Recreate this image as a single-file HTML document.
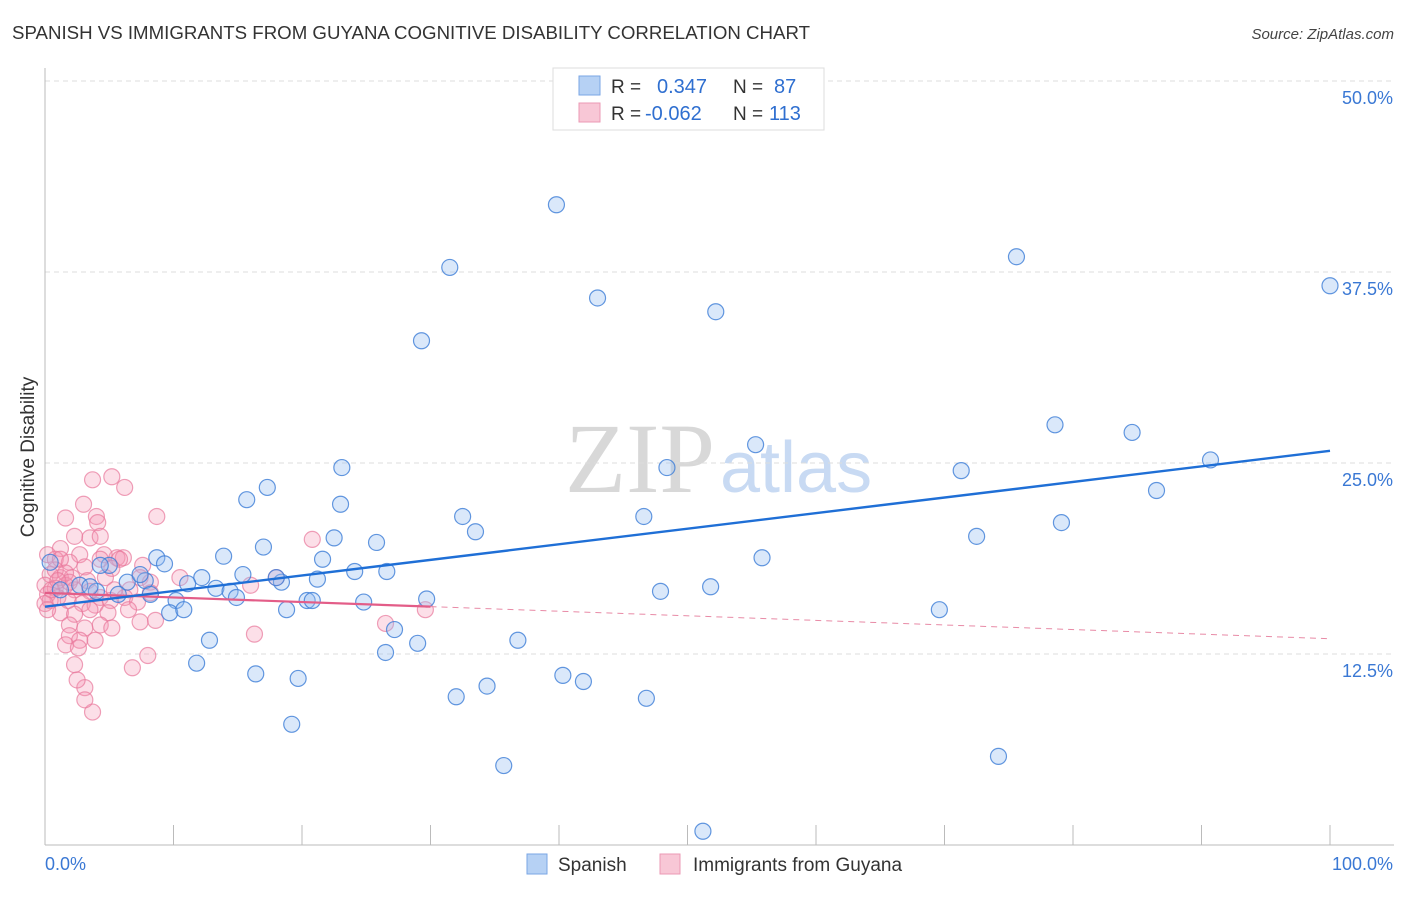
<!DOCTYPE html>
<html><head><meta charset="utf-8"><style>
body{margin:0;background:#fff;font-family:"Liberation Sans",sans-serif;}
svg text{font-family:"Liberation Sans",sans-serif;}
</style></head><body>
<svg width="1406" height="892" viewBox="0 0 1406 892" xmlns="http://www.w3.org/2000/svg" id="chart">
<text x="12" y="39" font-size="18.6" fill="#333" textLength="798" lengthAdjust="spacingAndGlyphs">SPANISH VS IMMIGRANTS FROM GUYANA COGNITIVE DISABILITY CORRELATION CHART</text>
<text x="1394" y="39" font-size="15" fill="#444" text-anchor="end" font-style="italic">Source: ZipAtlas.com</text>
<text transform="translate(34,457) rotate(-90)" font-size="19" fill="#333" text-anchor="middle">Cognitive Disability</text>
<text x="715" y="492" font-size="100" text-anchor="end" fill="#d8d8d8" font-family="Liberation Serif" style="font-family:'Liberation Serif',serif">ZIP</text>
<text x="720" y="492" font-size="72" fill="#c8daf3">atlas</text>
<g id="grid"></g>
<g id="marks"></g>
<g>
<rect x="553" y="68" width="271" height="62" fill="#fff" stroke="#ddd"/>
<rect x="579" y="76" width="21" height="19" fill="#b6d1f4" stroke="#7aa6e4"/>
<rect x="579" y="103" width="21" height="19" fill="#f8c7d6" stroke="#eb9ab4"/>
<text x="611" y="93" font-size="19" fill="#333">R =</text>
<text x="657" y="93" font-size="20" fill="#2f6fd0">0.347</text>
<text x="733" y="93" font-size="19" fill="#333">N =</text>
<text x="774" y="93" font-size="20" fill="#2f6fd0">87</text>
<text x="611" y="120" font-size="19" fill="#333">R =</text>
<text x="645" y="120" font-size="20" fill="#2f6fd0">-0.062</text>
<text x="733" y="120" font-size="19" fill="#333">N =</text>
<text x="769" y="120" font-size="20" fill="#2f6fd0">113</text>
</g>
<g>
<rect x="527" y="854" width="20" height="20" fill="#b6d1f4" stroke="#7aa6e4"/>
<text x="558" y="871" font-size="19" fill="#333">Spanish</text>
<rect x="660" y="854" width="20" height="20" fill="#f8c7d6" stroke="#eb9ab4"/>
<text x="693" y="871" font-size="19" fill="#333">Immigrants from Guyana</text>
</g>
</svg>
<script>
const yTicks=[12.5,25,37.5,50];
const yTickLabels=["12.5%","25.0%","37.5%","50.0%"];
const xTickLabels=["0.0%","100.0%"];
const spanishX=[39.8,31.5,75.6,100,43.0,52.2,29.3,78.6,84.6,55.3,48.4,23.1,71.3,90.7,86.5,15.7,17.3,23.0,32.5,33.5,46.6,79.1,22.5,25.8,72.5,17.0,8.7,13.9,21.6,9.3,55.8,15.4,24.1,26.6,21.2,12.2,11.1,6.4,7.8,18.4,18.0,5.0,4.3,13.3,14.4,14.9,8.2,10.2,9.7,10.8,18.8,20.4,20.8,24.8,29.7,47.9,51.8,69.6,4.0,5.7,12.8,27.2,29.0,26.5,36.8,11.8,16.4,19.7,32.0,34.4,40.3,41.9,46.8,19.2,35.7,74.2,51.2,0.4,1.2,2.7,3.5,7.4];
const spanishY=[41.9,37.8,38.5,36.6,35.8,34.9,33.0,27.5,27.0,26.2,24.7,24.7,24.5,25.2,23.2,22.6,23.4,22.3,21.5,20.5,21.5,21.1,20.1,19.8,20.2,19.5,18.8,18.9,18.7,18.4,18.8,17.7,17.9,17.9,17.4,17.5,17.1,17.2,17.3,17.2,17.5,18.3,18.3,16.8,16.6,16.2,16.4,16.0,15.2,15.4,15.4,16.0,16.0,15.9,16.1,16.6,16.9,15.4,16.6,16.4,13.4,14.1,13.2,12.6,13.4,11.9,11.2,10.9,9.7,10.4,11.1,10.7,9.6,7.9,5.2,5.8,0.9,18.5,16.7,17.0,16.9,17.7];
const guyanaX=[3.7,5.2,6.2,3.0,4.0,8.7,4.1,1.6,2.3,3.5,4.3,1.2,2.7,5.6,6.1,4.6,5.8,0.2,0.8,1.9,3.1,7.6,5.2,0.4,1.2,2.1,3.3,4.7,7.4,8.2,0,0.8,1.6,2.3,3.5,4.3,6.6,8.2,0.2,1.0,1.8,2.9,3.9,5.1,6.2,7.2,1.2,2.3,3.5,4.9,6.5,8.6,1.9,3.1,4.3,5.2,1.9,2.7,3.9,7.4,1.6,2.6,8.0,6.8,2.3,3.1,16.3,3.7,2.5,20.8,10.5,16.0,18.0,29.6,26.5,3.1,1.2,0.4,0.8,1.6,0,0.2,5.4,1.9,4.3,0.5,1.0];
const guyanaY=[23.9,24.1,23.4,22.3,21.5,21.5,21.1,21.4,20.2,20.1,20.2,19.4,19.0,18.8,18.8,19.0,18.7,19.0,18.7,18.5,18.2,18.3,18.1,17.7,17.5,17.5,17.3,17.5,17.5,17.2,17.0,16.8,17.0,16.7,16.6,16.2,16.7,16.5,16.4,16.2,16.0,15.8,15.7,16.0,16.2,15.9,15.2,15.1,15.4,15.2,15.4,14.7,14.4,14.2,14.4,14.2,13.7,13.4,13.4,14.6,13.1,12.9,12.4,11.6,11.8,10.3,13.8,8.7,10.8,20.0,17.5,17.0,17.5,15.4,14.5,9.5,18.7,16.0,18.0,17.8,15.8,15.4,16.7,17.2,18.7,16.7,17.3];
const spanishTrend=[15.6,25.8];
const guyanaTrend=[16.5,13.5];
const guyanaSolidEnd=30;

const NS="http://www.w3.org/2000/svg";
const xs=v=>45+v*12.85;
const ys=v=>845-v*15.28;
function mk(tag,attrs,parent){const e=document.createElementNS(NS,tag);for(const k in attrs)e.setAttribute(k,attrs[k]);parent.appendChild(e);return e;}
const grid=document.getElementById('grid');
const marks=document.getElementById('marks');
yTicks.forEach((t,i)=>{
  const l=mk('line',{x1:45,x2:1394,y1:ys(t),y2:ys(t),stroke:'#ddd','stroke-dasharray':'5,4'},grid);
  
  
  const tx=mk('text',{x:1393,y:ys(t)+23,'font-size':18,fill:'#3a78d4','text-anchor':'end'},grid);
  tx.textContent=yTickLabels[i];
  
  
});
const ax=mk('line',{x1:45,x2:1394,y1:845,y2:845,stroke:'#bbb'},grid);


const ay=mk('line',{x1:45,x2:45,y1:68,y2:845,stroke:'#bbb'},grid);


for(let i=0;i<=10;i++){
  const t=mk('line',{x1:xs(i*10),x2:xs(i*10),y1:825,y2:845,stroke:'#bbb'},grid);
  
  
}
const xl0=mk('text',{x:45,y:870,'font-size':18,fill:'#3a78d4'},grid);xl0.textContent=xTickLabels[0];


const xl1=mk('text',{x:1393,y:870,'font-size':18,fill:'#3a78d4','text-anchor':'end'},grid);xl1.textContent=xTickLabels[1];


guyanaX.forEach((x,i)=>{
  const c=mk('circle',{cx:xs(x),cy:ys(guyanaY[i]),r:8,fill:'rgba(244,150,180,0.3)',stroke:'rgba(232,120,155,0.7)','stroke-width':1.2},marks);
  
  
});
spanishX.forEach((x,i)=>{
  const c=mk('circle',{cx:xs(x),cy:ys(spanishY[i]),r:8,fill:'rgba(150,190,240,0.35)',stroke:'rgba(60,125,215,0.8)','stroke-width':1.2},marks);
  
  
});
const gy=x=>guyanaTrend[0]+(guyanaTrend[1]-guyanaTrend[0])*x/100;
const g1=mk('line',{x1:xs(0),y1:ys(gy(0)),x2:xs(guyanaSolidEnd),y2:ys(gy(guyanaSolidEnd)),stroke:'#e35d88','stroke-width':2.2},marks);


const g2=mk('line',{x1:xs(guyanaSolidEnd),y1:ys(gy(guyanaSolidEnd)),x2:xs(100),y2:ys(gy(100)),stroke:'#e88aa6','stroke-width':1,'stroke-dasharray':'6,5'},marks);


const s1=mk('line',{x1:xs(0),y1:ys(spanishTrend[0]),x2:xs(100),y2:ys(spanishTrend[1]),stroke:'#1f6fd6','stroke-width':2.4},marks);


</script>
</body></html>
